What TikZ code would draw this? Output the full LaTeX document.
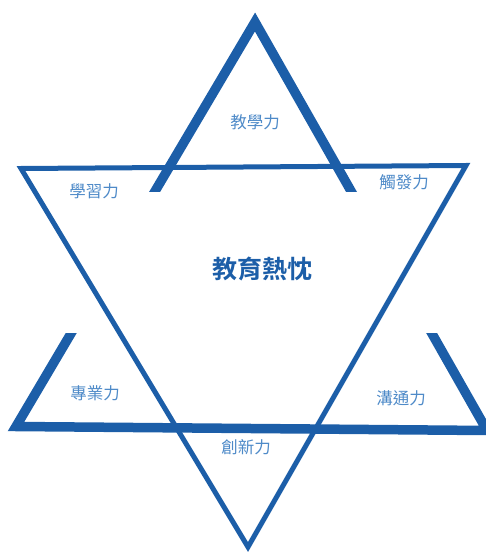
\documentclass[tikz,border=0pt]{standalone}
\usepackage{fontspec}
\newfontfamily\cjk[BoldFont={Noto Sans CJK TC Bold}]{Noto Sans CJK TC}
\definecolor{starblue}{RGB}{28,94,168}
\definecolor{labelblue}{RGB}{78,138,200}
\begin{document}
\begin{tikzpicture}[x=1pt,y=-1pt,
  thinline/.style={draw=starblue,line width=5pt,line join=miter,miter limit=10},
  thickline/.style={draw=starblue,line width=9.5pt,line join=miter,miter limit=10},
  lbl/.style={text=labelblue,font=\cjk\fontsize{16.5}{18}\selectfont,inner sep=0pt},
  centerlbl/.style={text=starblue,font=\cjk\bfseries\fontsize{25}{28}\selectfont,inner sep=0pt}]
\useasboundingbox (0,0) rectangle (486,553);
% downward (thin) triangle
\coordinate (dl) at (21,168.5);
\coordinate (dr) at (466,165.5);
\coordinate (db) at (248,547);
\draw[thinline] (dl) -- (dr) -- (db) -- cycle;
% upward (thick) triangle, legs interrupted between y=192 and y=333
\coordinate (ua) at (255,22);
\coordinate (ul) at (16,426.5);
\coordinate (ur) at (487,430.5);
\begin{scope}
\clip (-20,-20) rectangle (506,192) (-20,333) rectangle (506,573);
\draw[thickline] (ua) -- (ur) -- (ul) -- cycle;
\end{scope}
% labels
\node[lbl] (jiaoxue) at (255,122) {教學力};
\node[lbl] (xuexi) at (94,191) {學習力};
\node[lbl] (chufa) at (404,182) {觸發力};
\node[lbl] (zhuanye) at (95,393) {專業力};
\node[lbl] (goutong) at (401,398) {溝通力};
\node[lbl] (chuangxin) at (246,447) {創新力};
\node[centerlbl] (center) at (262.5,269) {教育熱忱};
\end{tikzpicture}
\end{document}
